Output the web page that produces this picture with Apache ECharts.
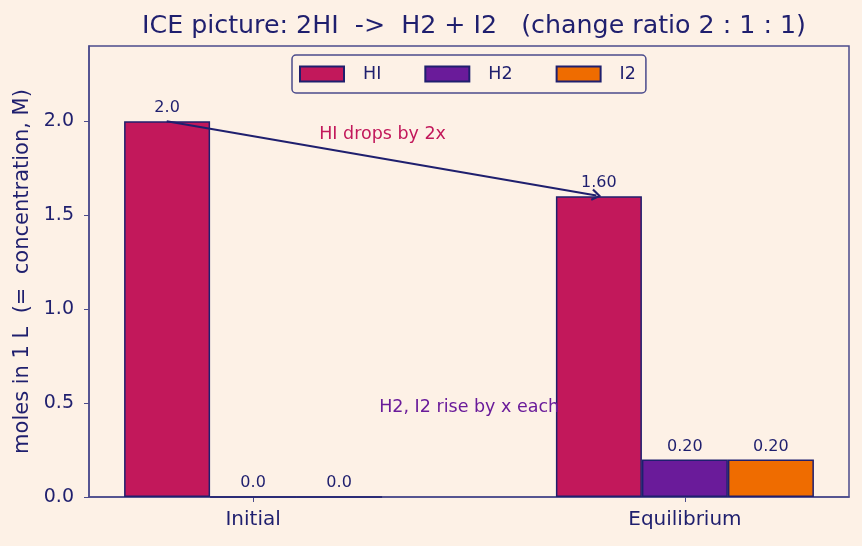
<!DOCTYPE html>
<html>
<head>
<meta charset="utf-8">
<script src="https://cdn.jsdelivr.net/npm/echarts@6/dist/echarts.min.js"></script>
<style>
  html, body { margin: 0; padding: 0; background: #fdf1e6; }
  #chart { width: 862px; height: 546px; }
</style>
</head>
<body>
<div id="chart"></div>
<script>
// stages on the x axis (positions 0 and 1)
const stages = ['Initial', 'Equilibrium']
const stagePos = [0, 1]
// moles of each species
const hiValues = [2.0, 1.60]
const h2Values = [0.0, 0.20]
const i2Values = [0.0, 0.20]
const yTicks = [0, 0.5, 1.0, 1.5, 2.0]

const navy = '#1f1f6e'
const frame = '#4b4b8c'
const chart = echarts.init(document.getElementById('chart'))

// value label: 1 decimal at start, 2 decimals at equilibrium
const valueLabel = {
  show: true,
  position: 'top',
  distance: 5,
  color: navy,
  fontSize: 16,
  fontFamily: 'DejaVu Sans',
  formatter: p => p.value[1].toFixed(p.dataIndex === 0 ? 1 : 2)
}

function makeSeries (name, color, values) {
  return {
    name: name,
    type: 'bar',
    barWidth: 86,
    barGap: '0%',
    itemStyle: { color: color, borderColor: navy, borderWidth: 1.5 },
    label: valueLabel,
    data: values.map((v, i) => [stagePos[i], v])
  }
}

const hi = makeSeries('HI', '#c2185b', hiValues)
const h2 = makeSeries('H2', '#6a1b9a', h2Values)
const i2 = makeSeries('I2', '#ef6c00', i2Values)

// arrow from HI start to HI equilibrium (on the middle series, so no bar offset)
h2.markLine = {
  silent: true,
  animation: false,
  symbol: ['none', 'path://M5,0 L10,7.5 L8.6,8.6 L5,3 L1.4,8.6 L0,7.5 Z'],
  symbolSize: [12, 10],
  label: { show: false },
  lineStyle: { color: navy, width: 2, type: 'solid' },
  data: [[{ coord: [-0.2, 2.0] }, { coord: [0.795, 1.605] }]]
}

// annotation texts
h2.markPoint = {
  silent: true,
  animation: false,
  symbol: 'circle',
  symbolSize: 0,
  data: [
    {
      coord: [0.153, 1.93],
      label: { show: true, position: 'right', distance: 0, formatter: 'HI drops by 2x', color: '#c2185b', fontSize: 17.5, fontFamily: 'DejaVu Sans' }
    },
    {
      coord: [0.292, 0.475],
      label: { show: true, position: 'right', distance: 0, formatter: 'H2, I2 rise by x each', color: '#6a1b9a', fontSize: 17.5, fontFamily: 'DejaVu Sans' }
    }
  ]
}

chart.setOption({
  backgroundColor: '#fdf1e6',
  animation: false,
  textStyle: { fontFamily: 'DejaVu Sans' },
  title: {
    text: 'ICE picture: 2HI  ->  H2 + I2   (change ratio 2 : 1 : 1)',
    left: 469,
    textAlign: 'center',
    top: 9,
    textStyle: { color: navy, fontSize: 25.3, fontWeight: 'normal', fontFamily: 'DejaVu Sans' }
  },
  legend: {
    left: 292,
    top: 55,
    padding: [10, 10, 10, 7],
    itemWidth: 44,
    itemHeight: 15,
    itemGap: 43,
    icon: 'rect',
    borderColor: frame,
    borderWidth: 1.5,
    borderRadius: 4,
    textStyle: { color: navy, fontSize: 17.5, fontFamily: 'DejaVu Sans', padding: [0, 0, 0, 14] },
    data: ['HI', 'H2', 'I2']
  },
  grid: {
    left: 89,
    right: 13,
    top: 46,
    bottom: 49,
    show: true,
    borderColor: frame,
    borderWidth: 1.5,
    containLabel: false
  },
  xAxis: {
    type: 'value',
    min: -0.38,
    max: 1.38,
    splitLine: { show: false },
    axisLine: { lineStyle: { color: frame, width: 1.5 } },
    axisTick: { customValues: stagePos, length: 5, lineStyle: { color: frame } },
    axisLabel: {
      customValues: stagePos,
      color: navy,
      fontSize: 20,
      margin: 13,
      formatter: v => stages[Math.round(v)]
    }
  },
  yAxis: {
    type: 'value',
    min: 0,
    max: 2.4,
    name: 'moles in 1 L  (=  concentration, M)',
    nameLocation: 'middle',
    nameGap: 55,
    nameTextStyle: { color: navy, fontSize: 21, fontFamily: 'DejaVu Sans' },
    splitLine: { show: false },
    axisLine: { show: true, onZero: false, lineStyle: { color: frame, width: 1.5 } },
    axisTick: { show: true, customValues: yTicks, length: 5, lineStyle: { color: frame } },
    axisLabel: {
      customValues: yTicks,
      color: navy,
      fontSize: 19,
      margin: 15,
      formatter: v => v.toFixed(1)
    }
  },
  series: [hi, h2, i2]
})
</script>
</body>
</html>
